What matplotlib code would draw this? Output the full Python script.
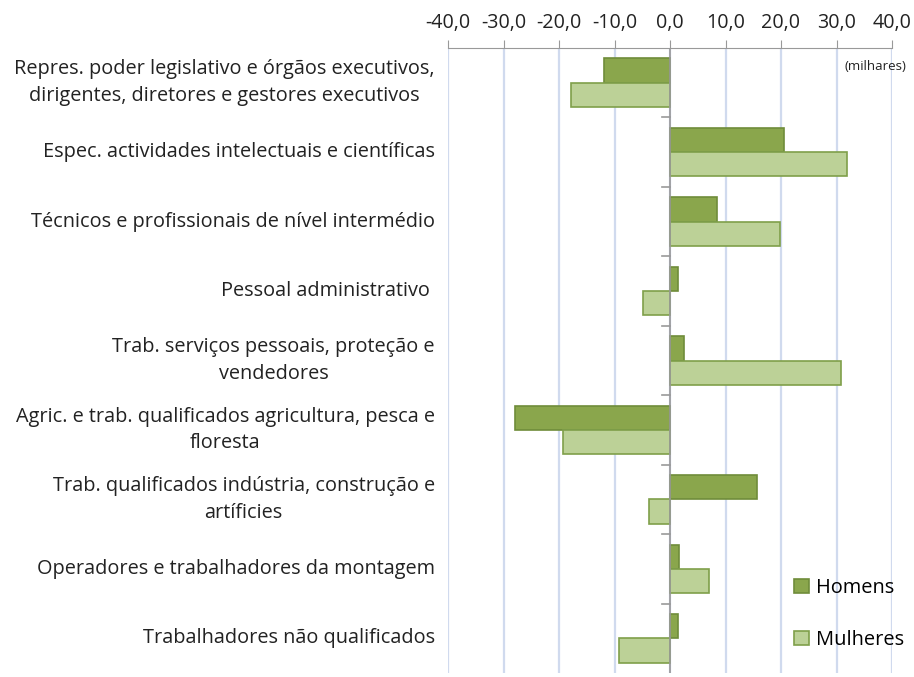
import matplotlib
matplotlib.use("Agg")
import matplotlib.pyplot as plt
import numpy as np

categories = [
    "Repres. poder legislativo e órgãos executivos,\ndirigentes, diretores e gestores executivos",
    "Espec. actividades intelectuais e científicas",
    "Técnicos e profissionais de nível intermédio",
    "Pessoal administrativo ",
    "Trab. serviços pessoais, proteção e\nvendedores",
    "Agric. e trab. qualificados agricultura, pesca e\nfloresta",
    "Trab. qualificados indústria, construção e\nartíficies",
    "Operadores e trabalhadores da montagem",
    "Trabalhadores não qualificados",
]
homens = [-11.9, 20.5, 8.5, 1.4, 2.5, -28.0, 15.6, 1.6, 1.4]
mulheres = [-17.9, 31.9, 19.8, -4.9, 30.8, -19.2, -3.7, 7.0, -9.2]
xticks = [-40, -30, -20, -10, 0, 10, 20, 30, 40]

plt.rcParams['font.family'] = ['Open Sans', 'DejaVu Sans']

fig = plt.figure(figsize=(9.14, 6.77), dpi=100)
ax = fig.add_axes([448/914, 1 - 673/677, 444/914, (673-48)/677])

n = len(categories)
y = np.arange(n)
h = 0.35
c_h, e_h = '#8aa64c', '#6f8c3a'
c_m, e_m = '#bcd197', '#7f9f4a'
ax.barh(y - h/2, homens, height=h, color=c_h, edgecolor=e_h, linewidth=1.2, label='Homens', zorder=3)
ax.barh(y + h/2, mulheres, height=h, color=c_m, edgecolor=e_m, linewidth=1.2, label='Mulheres', zorder=3)

ax.set_xlim(-40, 40)
ax.set_ylim(n - 0.5, -0.5)
ax.xaxis.tick_top()
ax.set_xticks(xticks)
ax.set_xticklabels([f"{v:.1f}".replace('.', ',') for v in xticks], fontsize=14.2, color='#222222')
ax.tick_params(axis='x', length=6, color='#999999', pad=5)
for v in xticks:
    ax.axvline(v, color='#d0daee', linewidth=1.6, zorder=1)

for s in ['bottom', 'left', 'right']:
    ax.spines[s].set_visible(False)
ax.spines['top'].set_color('#999999')

# y axis at zero with boundary ticks
ax.axvline(0, color='#999999', linewidth=1.2, zorder=4)
ax.set_yticks([])
for b in np.arange(0.5, n - 0.5, 1.0):
    ax.plot([-1.4, 0], [b, b], color='#999999', linewidth=1.2, zorder=4, clip_on=False)

for i, lab in enumerate(categories):
    ax.text(-0.03, i, lab, transform=ax.get_yaxis_transform(), ha='right', va='center',
            multialignment='center', fontsize=14.3, color='#222222', linespacing=1.45)

ax.text(906/914, 1 - 67/677, '(milhares)', transform=fig.transFigure, ha='right', va='center',
        fontsize=9.5, color='#222222')

leg = ax.legend(loc='lower left', bbox_to_anchor=(786/914, 1 - 658/677), bbox_transform=fig.transFigure,
                frameon=False, fontsize=14.4, handlelength=0.75, handleheight=0.75, handletextpad=0.35,
                labelspacing=1.6, borderaxespad=0)

fig.savefig('out.png', dpi=100)
